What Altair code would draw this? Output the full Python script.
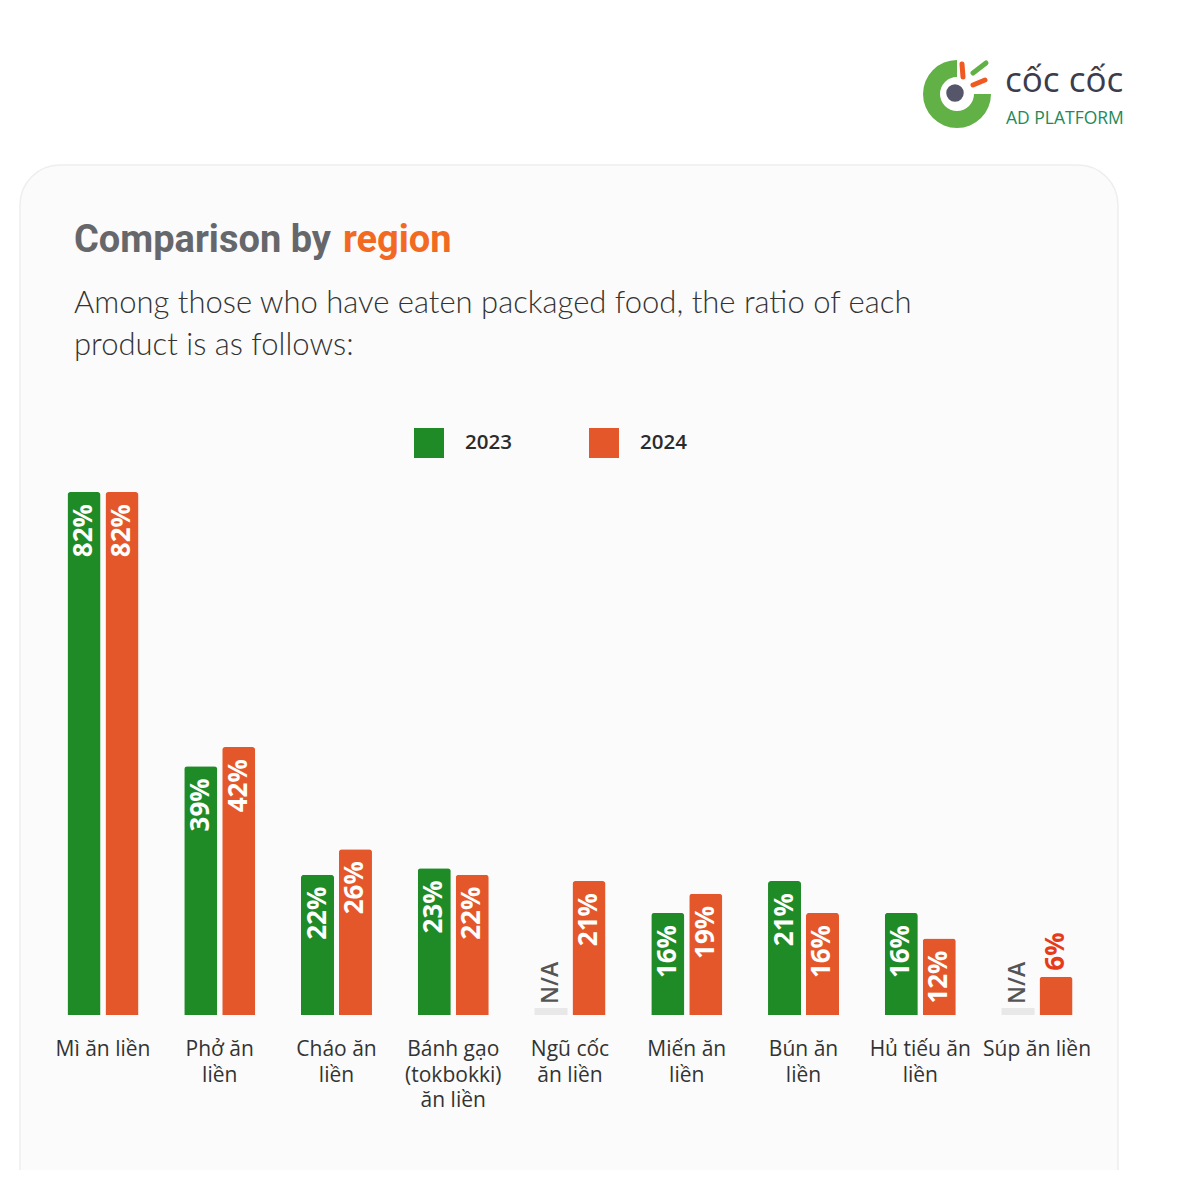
import math
import altair as alt
import pandas as pd

# ---- data ----
categories = ["Mì ăn liền", "Phở ăn liền", "Cháo ăn liền", "Bánh gạo (tokbokki) ăn liền",
              "Ngũ cốc ăn liền", "Miến ăn liền", "Bún ăn liền", "Hủ tiếu ăn liền", "Súp ăn liền"]
tick_labels = ["Mì ăn liền", "Phở ăn\nliền", "Cháo ăn\nliền", "Bánh gạo\n(tokbokki)\năn liền",
               "Ngũ cốc\năn liền", "Miến ăn\nliền", "Bún ăn\nliền", "Hủ tiếu ăn\nliền", "Súp ăn liền"]
years = ["2023", "2024"]
v2023 = [82, 39, 22, 23, None, 16, 21, 16, None]
v2024 = [82, 42, 26, 22, 21, 19, 16, 12, 6]

GREEN = "#1f8b26"
ORANGE = "#e4572a"

rows = []
for c, a, b in zip(categories, v2023, v2024):
    rows.append({"cat": c, "year": "2023", "value": a})
    rows.append({"cat": c, "year": "2024", "value": b})
df = pd.DataFrame(rows)
df_val = df[df["value"].notna()].copy()
df_val["value"] = df_val["value"].astype(float)
df_val["label"] = df_val["value"].map(lambda v: f"{int(v)}%")
df_in = df_val[df_val["value"] >= 10]
df_out = df_val[df_val["value"] < 10]
df_na = df[df["value"].isna()].copy()
df_na["label"] = "N/A"
df_ticks = pd.DataFrame({"cat": categories, "tick": tick_labels})

W, H = 1166, 1162

xscale = alt.Scale(domain=categories, range=[36.6, 1087.4], paddingInner=0.392, paddingOuter=0.196)
yscale = alt.Scale(domain=[0, 82], range=[1007, 484], nice=False, zero=True)
xo = alt.XOffset("year:N", scale=alt.Scale(domain=years, paddingInner=0.13, paddingOuter=0))
X = alt.X("cat:N", scale=xscale, axis=None, sort=categories)

def one(text):
    return pd.DataFrame({"t": [text]})

card = alt.Chart(one("")).mark_rect(cornerRadius=40, fill="#fbfbfb", stroke="#eeeeee", strokeWidth=1.5).encode(
    x=alt.value(12), x2=alt.value(1110), y=alt.value(157), y2=alt.value(1250))

bars = alt.Chart(df_val).mark_bar(cornerRadiusTopLeft=3, cornerRadiusTopRight=3).encode(
    x=X, xOffset=xo,
    y=alt.Y("value:Q", scale=yscale, axis=None),
    color=alt.Color("year:N", scale=alt.Scale(domain=years, range=[GREEN, ORANGE]),
                    legend=alt.Legend(title=None, orient="none", legendX=406, legendY=420,
                                      direction="horizontal", symbolType="square", symbolSize=900,
                                      symbolStrokeWidth=0, labelFontSize=20.5, labelFont="Open Sans",
                                      labelFontWeight=600, labelColor="#2b2b2b", labelOffset=21,
                                      columnPadding=77, padding=0)),
)

lab_in = alt.Chart(df_in).mark_text(angle=270, align="right", baseline="middle", dx=-12,
                                    font="Open Sans", fontSize=26, fontWeight="bold", color="white").encode(
    x=X, xOffset=xo, y=alt.Y("value:Q", scale=yscale, axis=None), text="label:N")

lab_out = alt.Chart(df_out).mark_text(angle=270, align="left", baseline="middle", dx=6,
                                      font="Open Sans", fontSize=26, fontWeight="bold", color="#e63b1a").encode(
    x=X, xOffset=xo, y=alt.Y("value:Q", scale=yscale, axis=None), text="label:N")

na_bar = alt.Chart(df_na).mark_bar(color="#e8e8e8").encode(
    x=X, xOffset=xo, y=alt.value(1000), y2=alt.value(1007))

na_lab = alt.Chart(df_na).mark_text(angle=270, align="left", baseline="middle", dx=4,
                                    font="Open Sans", fontSize=23, fontWeight=600, color="#555555").encode(
    x=X, xOffset=xo, y=alt.value(1000), text="label:N")

ticks = alt.Chart(df_ticks).mark_text(baseline="top", align="center", lineBreak="\n", lineHeight=25.5,
                                      font="Open Sans", fontSize=21, color="#333333").encode(
    x=X, y=alt.value(1031), text="tick:N")

title1 = alt.Chart(one("Comparison by")).mark_text(align="left", baseline="alphabetic", font="Roboto",
                                                   fontSize=38, fontWeight="bold", color="#66676b").encode(
    text="t:N", x=alt.value(66), y=alt.value(244))
title2 = alt.Chart(one("region")).mark_text(align="left", baseline="alphabetic", font="Roboto",
                                            fontSize=38, fontWeight="bold", color="#f26a21").encode(
    text="t:N", x=alt.value(335), y=alt.value(244))
sub1 = alt.Chart(one("Among those who have eaten packaged food, the ratio of each")).mark_text(
    align="left", baseline="alphabetic", font="Lato", fontSize=31, fontWeight=300, color="#333333").encode(
    text="t:N", x=alt.value(66), y=alt.value(305))
sub2 = alt.Chart(one("product is as follows:")).mark_text(
    align="left", baseline="alphabetic", font="Lato", fontSize=31, fontWeight=300, color="#333333").encode(
    text="t:N", x=alt.value(66), y=alt.value(347))

# logo
ring = alt.Chart(one("")).mark_arc(color="#62b146").encode(
    x=alt.value(949), y=alt.value(86), radius=alt.value(34), radius2=alt.value(17),
    theta=alt.value(math.pi / 2), theta2=alt.value(2 * math.pi))
dot = alt.Chart(one("")).mark_point(shape="circle", filled=True, size=420, color="#55566a",
                                    stroke="white", strokeWidth=3, opacity=1).encode(
    x=alt.value(947), y=alt.value(85))
s1 = alt.Chart(one("")).mark_rule(color="#f05a22", strokeWidth=5, strokeCap="round").encode(
    x=alt.value(954), y=alt.value(56), x2=alt.value(955), y2=alt.value(69))
s2 = alt.Chart(one("")).mark_rule(color="#62b146", strokeWidth=5, strokeCap="round").encode(
    x=alt.value(965), y=alt.value(65), x2=alt.value(978), y2=alt.value(55))
s3 = alt.Chart(one("")).mark_rule(color="#f05a22", strokeWidth=5, strokeCap="round").encode(
    x=alt.value(965), y=alt.value(77), x2=alt.value(977), y2=alt.value(72))
logo1 = alt.Chart(one("cốc cốc")).mark_text(align="left", baseline="alphabetic", font="Open Sans",
                                            fontSize=35, fontWeight=500, color="#3c3c4c").encode(
    text="t:N", x=alt.value(997), y=alt.value(84))
logo2 = alt.Chart(one("AD PLATFORM")).mark_text(align="left", baseline="alphabetic", font="Open Sans",
                                                fontSize=17.5, color="#1e8a5a").encode(
    text="t:N", x=alt.value(998), y=alt.value(116))

chart = alt.layer(card, ring, dot, s1, s2, s3, logo1, logo2, title1, title2, sub1, sub2,
                  bars, lab_in, lab_out, na_bar, na_lab, ticks).properties(
    width=W, height=H, padding=0, autosize=alt.AutoSizeParams(type="none"),
    background="white"
).configure_view(stroke=None)

chart.save("out.html", embed_options={"renderer": "svg", "actions": False})
